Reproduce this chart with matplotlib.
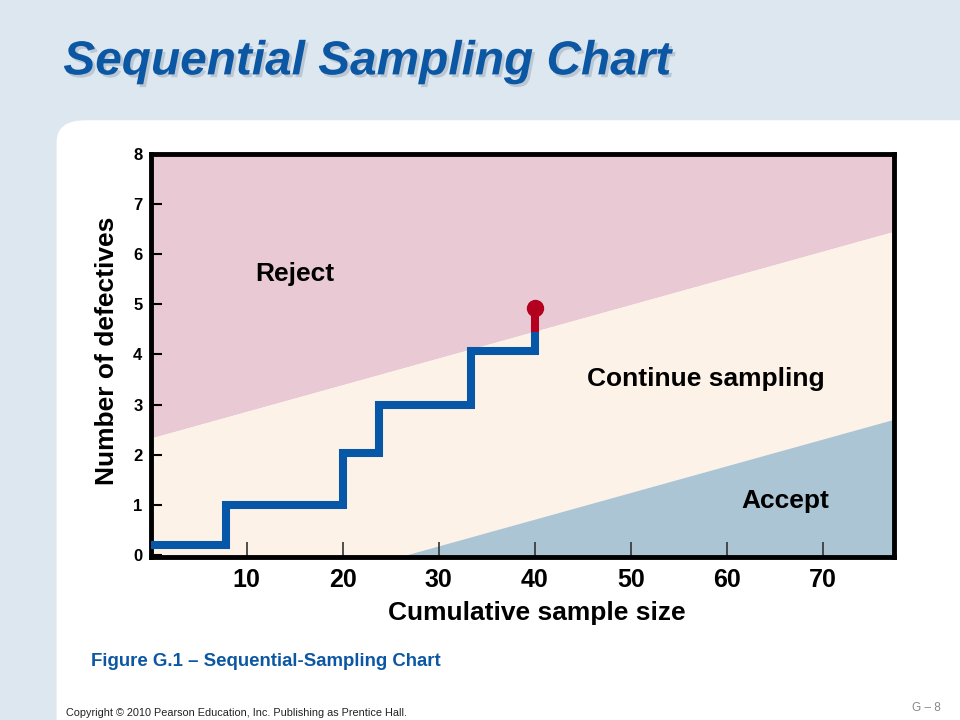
import numpy as np
import matplotlib
matplotlib.use('Agg')
import matplotlib.pyplot as plt
import matplotlib.patheffects as pe
from matplotlib.patches import FancyBboxPatch

plt.rcParams['font.family'] = ['Liberation Sans', 'DejaVu Sans']

# decision lines: defectives = intercept + slope * n
reject_intercept = 2.33
accept_intercept = -1.42
slope = 0.0533

# cumulative defectives found as the sample grows
step_x = [0, 7.8, 7.8, 20.0, 20.0, 23.8, 23.8, 33.4, 33.4, 40.0, 40.0]
step_y = [0.2, 0.2, 1.0, 1.0, 2.03, 2.03, 3.0, 3.0, 4.07, 4.07, 4.44]
final_x = 40.0
final_y = 4.93

xticks = [10, 20, 30, 40, 50, 60, 70]
yticks = [0, 1, 2, 3, 4, 5, 6, 7, 8]
xmax = 77.4

fig = plt.figure(figsize=(9.6, 7.2), dpi=100)
fig.patch.set_facecolor('#dce7f0')

# white slide panel
panel = FancyBboxPatch((0.059, -0.2), 1.2, 1.033, boxstyle='round,pad=0,rounding_size=0.03',
                       transform=fig.transFigure, facecolor='white', edgecolor='none', zorder=-10)
fig.patches.append(panel)

fig.text(0.066, 0.914, 'Sequential Sampling Chart', fontsize=34.4, fontweight='bold',
         fontstyle='italic', color='#0c57a3', va='center', ha='left',
         path_effects=[pe.SimplePatchShadow(offset=(2, -2), shadow_rgbFace='#7f8f9f', alpha=0.35),
                       pe.Normal()])

ax = fig.add_axes([0.157, 0.226, 0.774, 0.56])

x = np.array([0, xmax])
reject = reject_intercept + slope * x
accept = accept_intercept + slope * x
ax.fill_between(x, reject, 8, color='#e9cad4', lw=0)
ax.fill_between(x, accept, reject, color='#fdf2e8', lw=0)
ax.fill_between(x, -1, accept, color='#abc5d4', lw=0)

ax.plot(step_x, step_y, color='#0657a8', lw=5.8, solid_joinstyle='miter', solid_capstyle='butt', zorder=3)
ax.plot([final_x, final_x], [step_y[-1], final_y], color='#b3001e', lw=5.8,
        solid_capstyle='butt', zorder=3)
ax.plot([final_x], [final_y], 'o', color='#b3001e', markersize=11.5, zorder=4)

ax.text(15, 5.6, 'Reject', fontsize=19, fontweight='bold', ha='center', va='center')
ax.text(57.8, 3.5, 'Continue sampling', fontsize=19, fontweight='bold', ha='center', va='center')
ax.text(66.1, 1.08, 'Accept', fontsize=19, fontweight='bold', ha='center', va='center')

ax.set_xlim(0, xmax)
ax.set_ylim(-0.05, 7.95)
ax.set_xticks(xticks)
ax.set_yticks(yticks)
ax.tick_params(axis='x', direction='in', length=11, width=1.2, color='#333333',
               labelsize=18, pad=8)
ax.tick_params(axis='y', direction='in', length=8, width=1.5, color='black',
               labelsize=12, pad=6)
for lab in ax.get_xticklabels() + ax.get_yticklabels():
    lab.set_fontweight('bold')
for s in ax.spines.values():
    s.set_linewidth(3.5)
ax.set_xlabel('Cumulative sample size', fontsize=19, fontweight='bold')
ax.set_ylabel('Number of defectives', fontsize=19, fontweight='bold')
ax.xaxis.set_label_coords(0.52, -0.108)
ax.yaxis.set_label_coords(-0.043, 0.511)

fig.text(0.095, 0.081, 'Figure G.1 \u2013 Sequential-Sampling Chart', fontsize=13.4,
         fontweight='bold', color='#0c57a3', va='center')
fig.text(0.069, 0.01, 'Copyright \u00a9 2010 Pearson Education, Inc. Publishing as Prentice Hall.',
         fontsize=7.8, color='#222222', va='center')
fig.text(0.98, 0.017, 'G \u2013 8', fontsize=8.5, color='#888888', va='center', ha='right')

fig.savefig('out.png', dpi=100, facecolor=fig.get_facecolor())
